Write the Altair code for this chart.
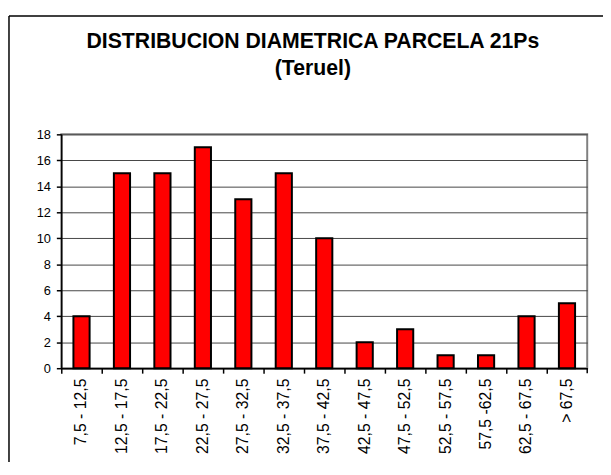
import altair as alt
import pandas as pd

categories = ["7,5 - 12,5", "12,5 - 17,5", "17,5 - 22,5", "22,5 - 27,5", "27,5 - 32,5",
              "32,5 - 37,5", "37,5 - 42,5", "42,5 - 47,5", "47,5 - 52,5", "52,5 - 57,5",
              "57,5 -62,5", "62,5 - 67,5", "> 67,5"]
counts = [4, 15, 15, 17, 13, 15, 10, 2, 3, 1, 1, 4, 5]
y_ticks = [0, 2, 4, 6, 8, 10, 12, 14, 16, 18]
title_lines = ["DISTRIBUCION DIAMETRICA PARCELA 21Ps", "(Teruel)"]

df = pd.DataFrame({"clase": categories, "n": counts})
one = alt.Data(values=[{"k": 0}])

W, H = 533, 237
FONT = "Liberation Sans"

x_enc = alt.X("clase:N", sort=categories, title=None,
              scale=alt.Scale(paddingInner=0, paddingOuter=0),
              axis=alt.Axis(labelAngle=270, labelFont=FONT, labelFontSize=16,
                            labelColor="black", labelPadding=5,
                            domainColor="black", domainWidth=1.5,
                            tickColor="black", tickSize=5, tickWidth=1.5,
                            bandPosition=0, grid=False, labelLimit=200))
y_enc = alt.Y("n:Q", title=None,
              scale=alt.Scale(domain=[0, 18], nice=False),
              axis=alt.Axis(values=y_ticks, labelFont=FONT, labelFontSize=13,
                            labelColor="black", labelPadding=6,
                            domainColor="black", domainWidth=1.5,
                            tickColor="black", tickSize=5, tickWidth=1.5,
                            grid=True, gridColor="#444444", gridWidth=1))

bars = alt.Chart(df).mark_bar(
    color="#ff0000", stroke="black", strokeWidth=2,
    width=alt.RelativeBandSize(0.40)
).encode(x=x_enc, y=y_enc)

# tick at the right end of the category axis
end_tick = alt.Chart(one).mark_rule(color="black", strokeWidth=1.5).encode(
    x=alt.value(W), y=alt.value(H), y2=alt.value(H + 5))

# outer chart frame (top and left edges; the rest lies outside the picture)
frame_top = alt.Chart(one).mark_rule(color="black", strokeWidth=1.5).encode(
    x=alt.value(-53), x2=alt.value(W + 16), y=alt.value(-120))
frame_left = alt.Chart(one).mark_rule(color="black", strokeWidth=1.5).encode(
    x=alt.value(-53), y=alt.value(-120), y2=alt.value(H + 140))

title = alt.Chart(one).mark_text(
    text=title_lines, font=FONT, fontSize=21.5, fontWeight="bold", color="black",
    align="center", baseline="alphabetic", lineHeight=28
).encode(x=alt.value(255), y=alt.value(-88))

chart = alt.layer(frame_top, frame_left, bars, end_tick, title).properties(
    width=W, height=H,
    autosize=alt.AutoSizeParams(type="none"),
    padding={"left": 54, "top": 125, "right": 16, "bottom": 92},
).configure_view(stroke="#808080", strokeWidth=2)

chart.save("out.html", embed_options={"renderer": "svg", "actions": False})
